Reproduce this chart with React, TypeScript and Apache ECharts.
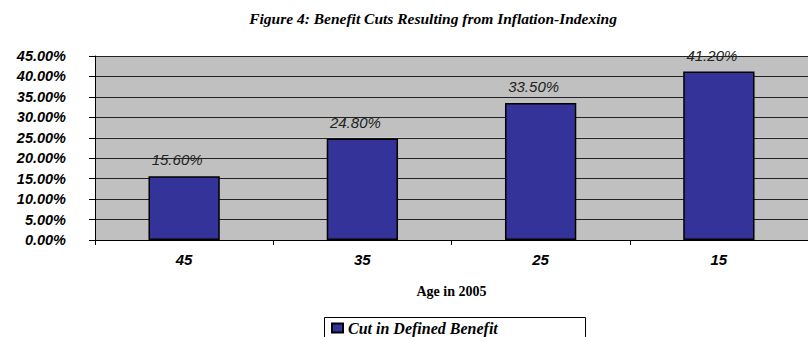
import React, { useEffect, useRef } from "react";
import * as echarts from "echarts";

const titleText = "Figure 4: Benefit Cuts Resulting from Inflation-Indexing";
const categories = ["45", "35", "25", "15"];
const cutValues = [15.6, 24.8, 33.5, 41.2];
const seriesName = "Cut in Defined Benefit";
const axisName = "Age in 2005";

export default function App() {
  const ref = useRef<HTMLDivElement>(null);
  useEffect(() => {
    if (!ref.current) return;
    const chart = echarts.init(ref.current, undefined, { renderer: "svg" });
    chart.setOption({
      animation: false,
      backgroundColor: "#ffffff",
      graphic: [
        {
          type: "text",
          x: 433,
          y: 18,
          style: {
            text: titleText,
            fill: "#000",
            font: "italic bold 15.5px 'Liberation Serif'",
            textAlign: "center",
            textVerticalAlign: "middle",
          },
        },
        {
          type: "rect",
          shape: { x: 324.5, y: 317.5, width: 261, height: 30 },
          style: { fill: "none", stroke: "#000", lineWidth: 1 },
        },
      ],
      legend: {
        left: 331,
        top: 320,
        padding: 0,
        itemWidth: 11,
        itemHeight: 9,
        icon: "rect",
        textStyle: {
          fontFamily: "Liberation Serif",
          fontStyle: "italic",
          fontWeight: "bold",
          fontSize: 16,
          color: "#000",
        },
        data: [seriesName],
      },
      grid: { left: 95, top: 56, width: 722, height: 184 },
      xAxis: {
        type: "category",
        data: categories,
        name: axisName,
        nameLocation: "middle",
        nameGap: 44,
        nameTextStyle: {
          fontFamily: "Liberation Serif",
          fontWeight: "bold",
          fontSize: 14,
          color: "#000",
        },
        axisLine: { lineStyle: { color: "#000", width: 1 } },
        axisTick: { show: true, length: 5, lineStyle: { color: "#000" } },
        axisLabel: {
          margin: 12,
          fontFamily: "Liberation Sans",
          fontStyle: "italic",
          fontWeight: "bold",
          fontSize: 15,
          color: "#000",
        },
      },
      yAxis: {
        type: "value",
        min: 0,
        max: 45,
        interval: 5,
        axisLine: { show: true, lineStyle: { color: "#000", width: 1 } },
        axisTick: { show: true, length: 6, lineStyle: { color: "#000" } },
        splitLine: { show: true, lineStyle: { color: "#222", width: 1 } },
        splitArea: { show: true, areaStyle: { color: ["#c0c0c0", "#c0c0c0"] } },
        axisLabel: {
          margin: 29,
          formatter: (v: number) => v.toFixed(2) + "%",
          fontFamily: "Liberation Sans",
          fontStyle: "italic",
          fontWeight: "bold",
          fontSize: 14.5,
          color: "#000",
        },
      },
      series: [
        {
          name: seriesName,
          type: "bar",
          data: cutValues,
          barWidth: "40%",
          itemStyle: { color: "#333399", borderColor: "#000", borderWidth: 1.5 },
          label: {
            show: true,
            position: "top",
            distance: 9,
            offset: [-7, 0],
            formatter: (p: any) => p.value.toFixed(2) + "%",
            fontFamily: "Liberation Sans",
            fontStyle: "italic",
            fontSize: 15,
            color: "#222",
          },
        },
      ],
    });
    return () => chart.dispose();
  }, []);
  return (
    <div
      ref={ref}
      style={{ position: "fixed", left: 0, top: 0, width: 808, height: 337 }}
    />
  );
}
